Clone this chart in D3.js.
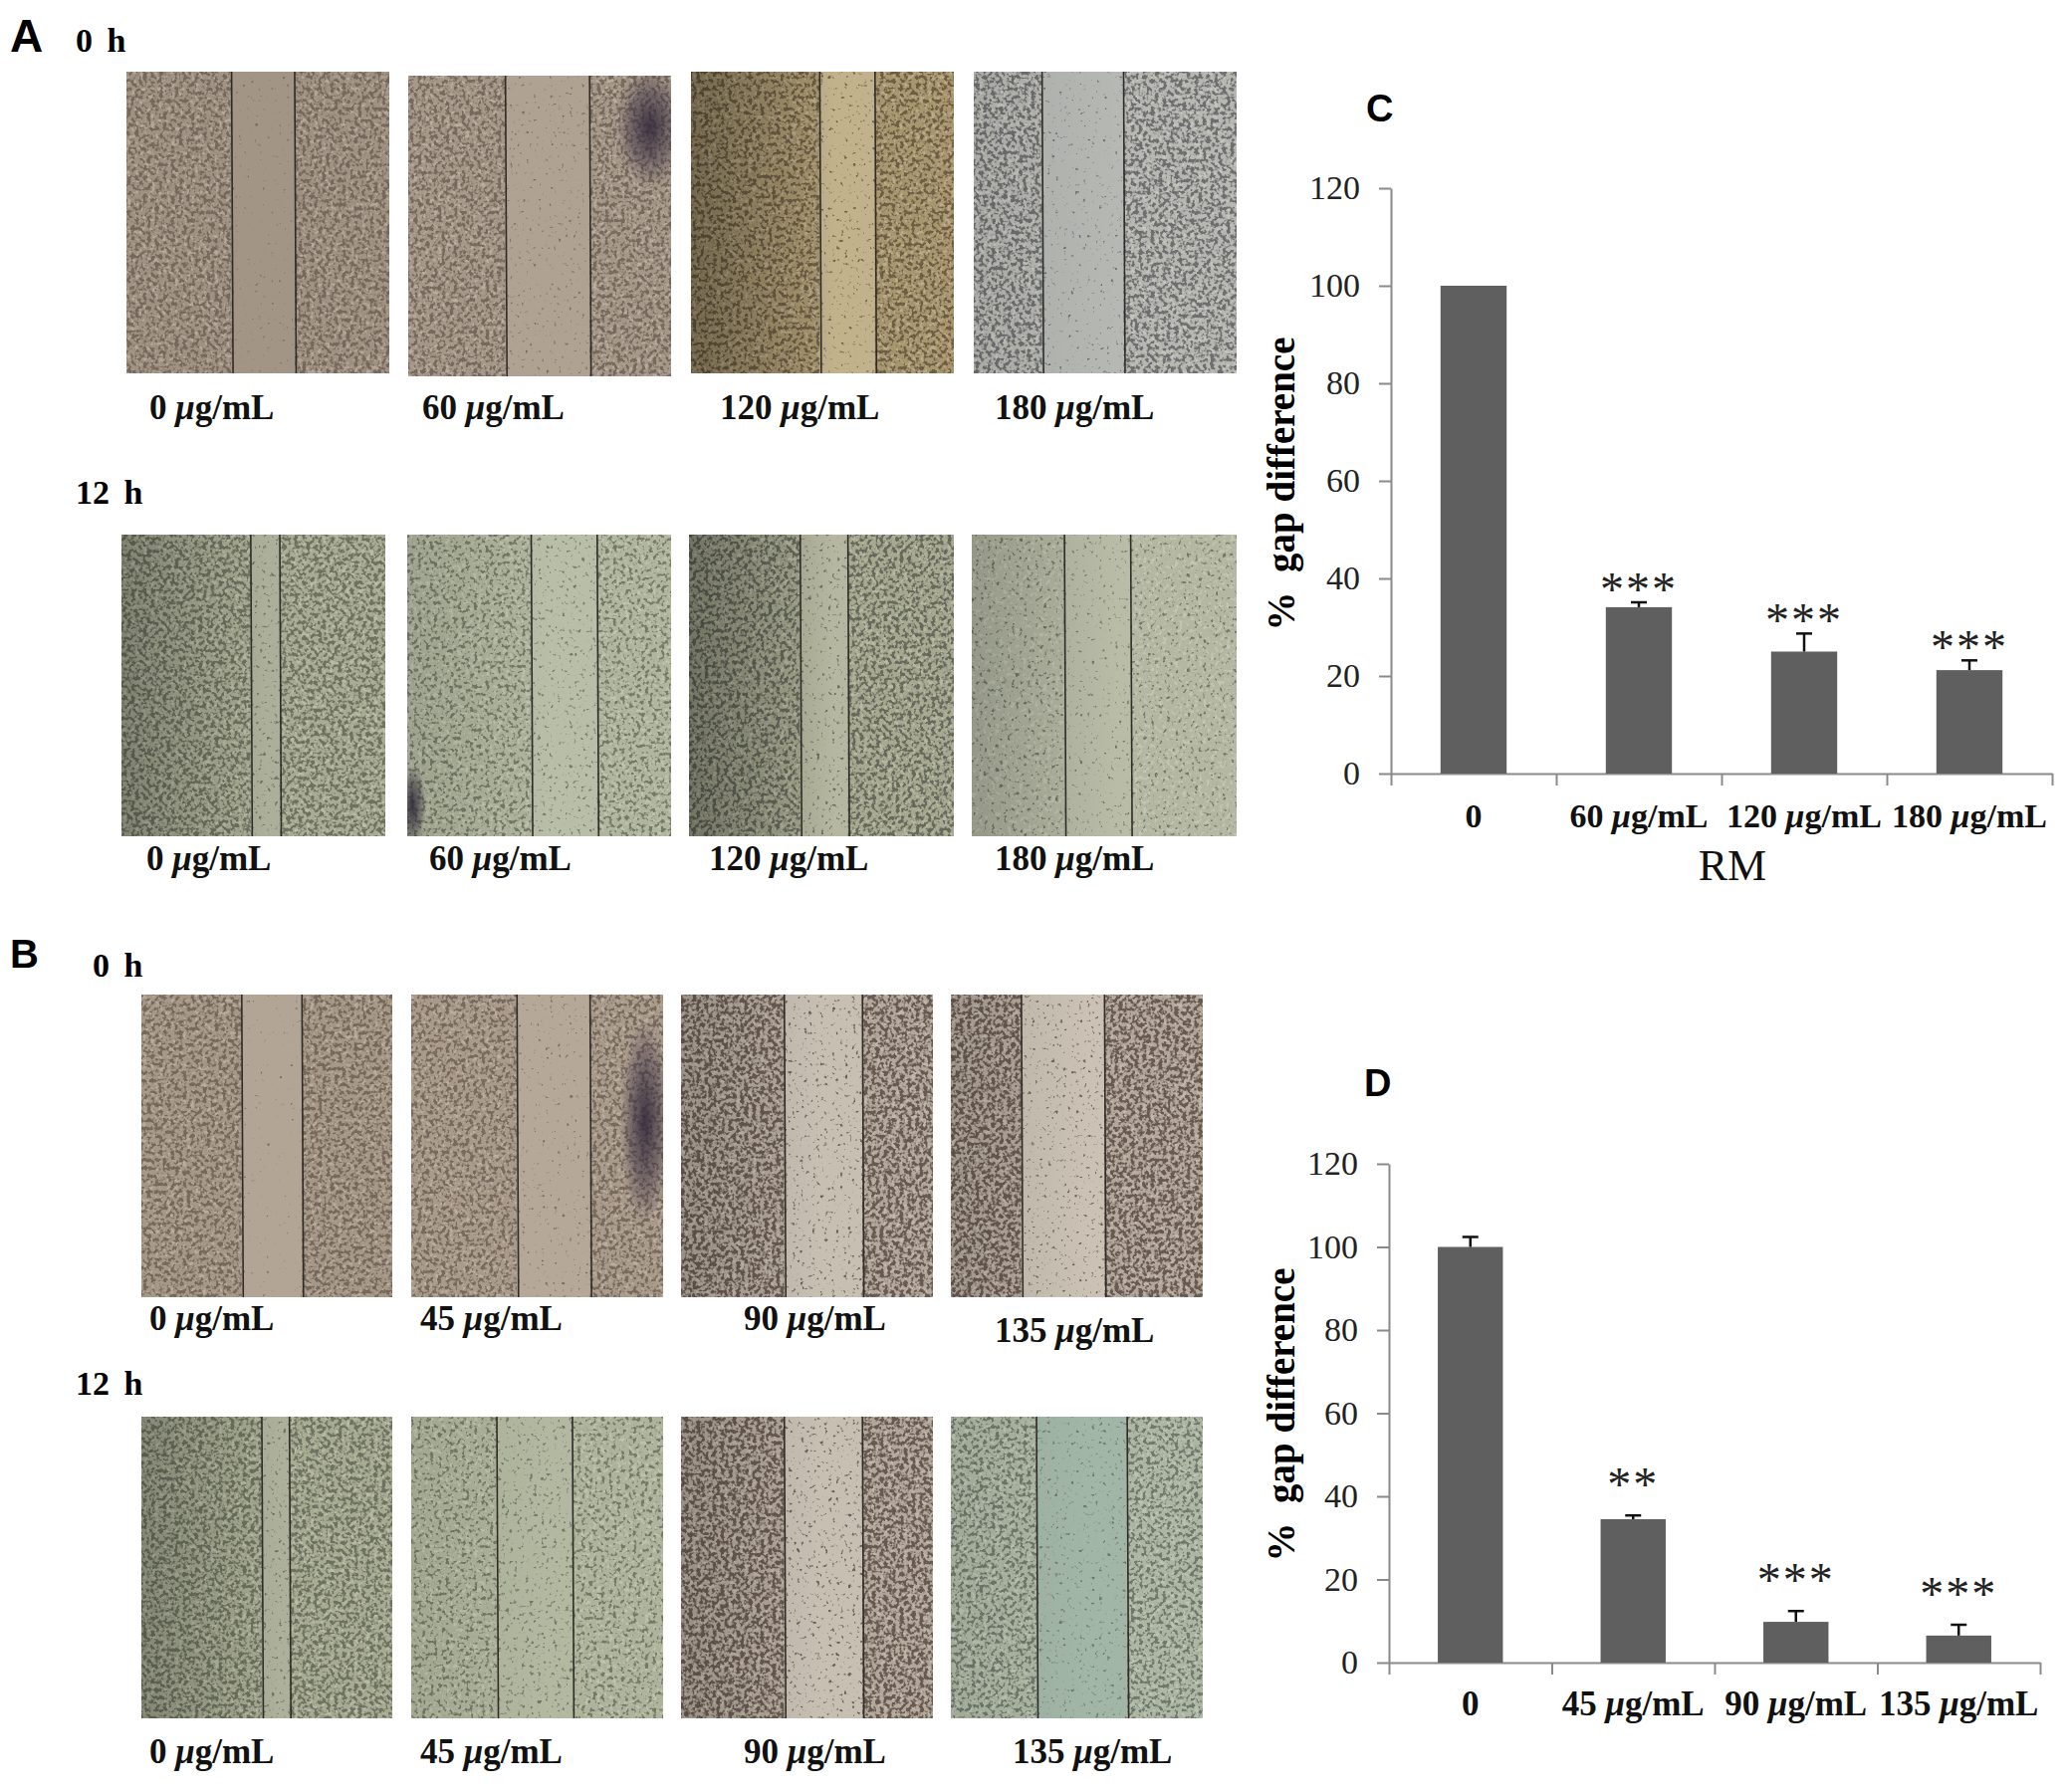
<!DOCTYPE html>
<html>
<head>
<meta charset="utf-8">
<script src="https://cdn.jsdelivr.net/npm/d3@7"></script>
<style>
  body { margin: 0; background: #fff; }
  svg { display: block; }
  .serif { font-family: "Liberation Serif", "Times New Roman", serif; }
  .sans { font-family: "Liberation Sans", Arial, sans-serif; }
</style>
</head>
<body>
<div id="fig"></div>
<script>
/* Wound healing figure: micrographs (A, B) and gap bar charts (C, D) */

// ---- chart data ----
const catsC = ["0", "60", "120", "180"];
const meansC = [100, 34.1, 25.0, 21.2];
const errC = [0, 1.0, 3.7, 2.0];
const sigC = ["", "***", "***", "***"];

const catsD = ["0", "45", "90", "135"];
const meansD = [100, 34.5, 9.8, 6.5];
const errD = [2.4, 0.9, 2.6, 2.6];
const sigD = ["", "**", "***", "***"];

const yTicks = [0, 20, 40, 60, 80, 100, 120];

// doses shown under the micrographs
const dosesA = ["0", "60", "120", "180"];
const dosesB = ["0", "45", "90", "135"];

const width = 2076, height = 1800;

const svg = d3.select("#fig").append("svg")
    .attr("width", width)
    .attr("height", height)
    .attr("viewBox", [0, 0, width, height]);

const defs = svg.append("defs");

// left-side darkening used on some photos
const shade = defs.append("linearGradient").attr("id", "shade");
shade.append("stop").attr("offset", "0%").attr("stop-color", "#000").attr("stop-opacity", 0.35);
shade.append("stop").attr("offset", "55%").attr("stop-color", "#000").attr("stop-opacity", 0);

const blot = defs.append("radialGradient").attr("id", "blot");
blot.append("stop").attr("offset", "0%").attr("stop-color", "#2c2236").attr("stop-opacity", 0.85);
blot.append("stop").attr("offset", "60%").attr("stop-color", "#3a2f42").attr("stop-opacity", 0.45);
blot.append("stop").attr("offset", "100%").attr("stop-color", "#3a2f42").attr("stop-opacity", 0);

function speck(id, color, freq, thr, seed, op) {
  const f = defs.append("filter").attr("id", id)
      .attr("x", 0).attr("y", 0).attr("width", 1).attr("height", 1)
      .attr("color-interpolation-filters", "sRGB");
  f.append("feTurbulence").attr("type", "fractalNoise")
      .attr("baseFrequency", freq).attr("numOctaves", 3)
      .attr("seed", seed).attr("result", "n");
  f.append("feColorMatrix").attr("in", "n").attr("type", "matrix")
      .attr("values", `0 0 0 0 0  0 0 0 0 0  0 0 0 0 0  7 0 0 0 ${-7 * thr}`)
      .attr("result", "m");
  f.append("feFlood").attr("flood-color", color).attr("flood-opacity", op).attr("result", "c");
  f.append("feComposite").attr("in", "c").attr("in2", "m").attr("operator", "in");
}

// ---- micrograph layout (x, y, w, h, gap edges as fractions, colours) ----
const photos = [
  // A 0 h
  {x: 127, y: 72, w: 264, h: 303, l: 0.40, r: 0.64, bg: "#a09282", cell: "#6a5d51", gap: "#a39585", thr: 0.48, gthr: 0.72, shade: 0},
  {x: 410, y: 76, w: 264, h: 302, l: 0.37, r: 0.69, bg: "#a69888", cell: "#6a5c51", gap: "#b0a292", thr: 0.48, gthr: 0.68, shade: 0, blot: [0.92, 0.17, 0.13, 0.2]},
  {x: 694, y: 72, w: 264, h: 303, l: 0.49, r: 0.70, bg: "#a8966f", cell: "#5e5038", gap: "#c2b28c", thr: 0.49, gthr: 0.66, shade: 0.9},
  {x: 978, y: 72, w: 264, h: 303, l: 0.26, r: 0.57, bg: "#b7b7b1", cell: "#5a5c5e", gap: "#b5b8b3", thr: 0.47, gthr: 0.68, shade: 0.2},
  // A 12 h
  {x: 122, y: 537, w: 265, h: 303, l: 0.49, r: 0.60, bg: "#a9ac94", cell: "#5e6352", gap: "#acb09a", thr: 0.47, gthr: 0.64, shade: 0.7},
  {x: 409, y: 537, w: 265, h: 303, l: 0.47, r: 0.72, bg: "#b0b59e", cell: "#666c59", gap: "#b9bea8", thr: 0.53, gthr: 0.64, shade: 0.3, blot: [0.02, 0.9, 0.05, 0.14]},
  {x: 692, y: 537, w: 266, h: 303, l: 0.42, r: 0.60, bg: "#a6a88f", cell: "#55594d", gap: "#b5b7a0", thr: 0.48, gthr: 0.64, shade: 0.9},
  {x: 976, y: 537, w: 266, h: 303, l: 0.35, r: 0.60, bg: "#b4b8a3", cell: "#606555", gap: "#b9bda8", thr: 0.62, gthr: 0.67, shade: 0.5},
  // B 0 h
  {x: 142, y: 999, w: 252, h: 304, l: 0.40, r: 0.64, bg: "#a69787", cell: "#695c50", gap: "#b3a595", thr: 0.48, gthr: 0.72, shade: 0},
  {x: 413, y: 999, w: 253, h: 304, l: 0.42, r: 0.71, bg: "#a99a8a", cell: "#6a5c51", gap: "#b6a898", thr: 0.49, gthr: 0.68, shade: 0, blot: [0.93, 0.42, 0.1, 0.34]},
  {x: 684, y: 999, w: 253, h: 304, l: 0.41, r: 0.72, bg: "#b2a79a", cell: "#54463d", gap: "#c8bfb3", thr: 0.45, gthr: 0.64, shade: 0.4},
  {x: 955, y: 999, w: 253, h: 304, l: 0.28, r: 0.61, bg: "#b2a79a", cell: "#55463d", gap: "#cbc2b5", thr: 0.45, gthr: 0.66, shade: 0.3},
  // B 12 h
  {x: 142, y: 1423, w: 252, h: 303, l: 0.48, r: 0.59, bg: "#a7ab92", cell: "#5e6453", gap: "#adb19b", thr: 0.47, gthr: 0.64, shade: 0.6},
  {x: 413, y: 1423, w: 253, h: 303, l: 0.34, r: 0.64, bg: "#aeb49b", cell: "#636b59", gap: "#b2b9a0", thr: 0.55, gthr: 0.62, shade: 0.2},
  {x: 684, y: 1423, w: 253, h: 303, l: 0.41, r: 0.72, bg: "#b2a79a", cell: "#54463d", gap: "#c8bfb3", thr: 0.45, gthr: 0.64, shade: 0.4},
  {x: 955, y: 1423, w: 253, h: 303, l: 0.34, r: 0.70, bg: "#adb6a3", cell: "#5e695d", gap: "#a2b6a8", thr: 0.50, gthr: 0.66, shade: 0.2}
];

const photoG = svg.append("g");

photos.forEach((p, i) => {
  speck(`cell${i}`, p.cell, 0.25, p.thr, i + 3, 0.8);
  speck(`lite${i}`, "#f4f1e8", 0.25, 0.55, i + 41, 0.25);
  speck(`gapc${i}`, p.cell, 0.25, p.gthr, i + 23, 0.8);

  defs.append("clipPath").attr("id", `clip${i}`)
    .append("rect").attr("x", p.x).attr("y", p.y).attr("width", p.w).attr("height", p.h);

  const g = photoG.append("g").attr("clip-path", `url(#clip${i})`);
  const gl = p.x + p.w * p.l, gr = p.x + p.w * p.r;

  g.append("rect").attr("x", p.x).attr("y", p.y).attr("width", p.w).attr("height", p.h)
      .attr("fill", p.bg);
  g.append("rect").attr("x", p.x).attr("y", p.y).attr("width", p.w).attr("height", p.h)
      .attr("fill", "#000").attr("filter", `url(#lite${i})`);
  g.append("rect").attr("x", p.x).attr("y", p.y).attr("width", p.w).attr("height", p.h)
      .attr("fill", "#000").attr("filter", `url(#cell${i})`);
  g.append("rect").attr("x", gl).attr("y", p.y).attr("width", gr - gl).attr("height", p.h)
      .attr("fill", p.gap);
  g.append("rect").attr("x", gl).attr("y", p.y).attr("width", gr - gl).attr("height", p.h)
      .attr("fill", "#000").attr("filter", `url(#gapc${i})`);

  if (p.blot) {
    g.append("ellipse")
        .attr("cx", p.x + p.w * p.blot[0]).attr("cy", p.y + p.h * p.blot[1])
        .attr("rx", p.w * p.blot[2]).attr("ry", p.h * p.blot[3])
        .attr("fill", "url(#blot)");
  }
  if (p.shade) {
    g.append("rect").attr("x", p.x).attr("y", p.y).attr("width", p.w).attr("height", p.h)
        .attr("fill", "url(#shade)").attr("opacity", p.shade);
  }

  g.selectAll("line.edge").data([gl, gr]).join("line")
      .attr("class", "edge")
      .attr("x1", d => d).attr("x2", d => d + 1.5)
      .attr("y1", p.y).attr("y2", p.y + p.h)
      .attr("stroke", "#2f2b28").attr("stroke-width", 1.6);
});

// ---- text around the micrographs ----
const doseLabel = (sel, dose) => {
  sel.append("tspan").text(dose + " ");
  sel.append("tspan").attr("font-style", "italic").text("\u03bc");
  sel.append("tspan").text("g/mL");
};

const photoLabelRows = [
  {doses: dosesA, xs: [150, 424, 723, 999], ys: [421, 421, 421, 421]},
  {doses: dosesA, xs: [147, 431, 712, 999], ys: [874, 874, 874, 874]},
  {doses: dosesB, xs: [150, 422, 747, 999], ys: [1336, 1336, 1336, 1348]},
  {doses: dosesB, xs: [150, 422, 747, 1017], ys: [1771, 1771, 1771, 1771]}
];

photoLabelRows.forEach(row => {
  row.doses.forEach((d, i) => {
    svg.append("text").attr("class", "serif")
        .attr("x", row.xs[i]).attr("y", row.ys[i])
        .attr("font-size", 35).attr("font-weight", "bold").attr("fill", "#111")
        .call(doseLabel, d);
  });
});

const timeLabels = [
  {t: "0 h", x: 76, y: 52},
  {t: "12 h", x: 76, y: 506},
  {t: "0 h", x: 93, y: 981},
  {t: "12 h", x: 76, y: 1401}
];
svg.selectAll("text.time").data(timeLabels).join("text")
    .attr("class", "time serif")
    .attr("x", d => d.x).attr("y", d => d.y)
    .attr("font-size", 34).attr("font-weight", "bold")
    .attr("word-spacing", 6)
    .text(d => d.t);

const panelLabels = [
  {t: "A", x: 10, y: 52, s: 46},
  {t: "B", x: 10, y: 972, s: 40},
  {t: "C", x: 1372, y: 122, s: 38},
  {t: "D", x: 1370, y: 1101, s: 38}
];
svg.selectAll("text.panel").data(panelLabels).join("text")
    .attr("class", "panel sans")
    .attr("x", d => d.x).attr("y", d => d.y)
    .attr("font-size", d => d.s).attr("font-weight", "bold")
    .text(d => d.t);

// ---- bar charts ----
function barChart(cats, means, errs, sigs, o) {
  const g = svg.append("g");

  const x = d3.scaleBand().domain(cats).range([o.x0, o.x1]);
  const xEdge = d3.scaleLinear().domain([0, cats.length]).range([o.x0, o.x1]);
  const y = d3.scaleLinear().domain([0, 120]).range([o.yBottom, o.yTop]);

  const yAxis = g.append("g")
      .attr("transform", `translate(${o.x0},0)`)
      .call(d3.axisLeft(y).tickValues(yTicks).tickSize(12).tickSizeOuter(0).tickPadding(19));
  yAxis.select(".domain").attr("stroke", "#8a8a8a").attr("stroke-width", 2);
  yAxis.selectAll(".tick line").attr("stroke", "#8a8a8a").attr("stroke-width", 2);
  yAxis.selectAll(".tick text")
      .attr("class", "serif").attr("font-size", 34).attr("fill", "#222");

  const xAxis = g.append("g")
      .attr("transform", `translate(0,${o.yBottom})`)
      .call(d3.axisBottom(xEdge).tickValues(d3.range(cats.length + 1))
          .tickFormat("").tickSize(12).tickSizeOuter(0));
  xAxis.select(".domain").attr("stroke", "#8a8a8a").attr("stroke-width", 2);
  xAxis.selectAll(".tick line").attr("stroke", "#8a8a8a").attr("stroke-width", 2);

  const bw = x.bandwidth() * 0.4;
  const cx = d => x(d) + x.bandwidth() / 2;
  const rows = cats.map((c, i) => ({c, m: means[i], e: errs[i], s: sigs[i]}));

  g.selectAll("rect.bar").data(rows).join("rect")
      .attr("class", "bar")
      .attr("x", d => cx(d.c) - bw / 2)
      .attr("width", bw)
      .attr("y", d => y(d.m))
      .attr("height", d => y(0) - y(d.m))
      .attr("fill", "#5f5f5f");

  const eb = g.selectAll("g.err").data(rows.filter(d => d.e > 0)).join("g").attr("class", "err");
  eb.append("line")
      .attr("x1", d => cx(d.c)).attr("x2", d => cx(d.c))
      .attr("y1", d => y(d.m)).attr("y2", d => y(d.m + d.e))
      .attr("stroke", "#111").attr("stroke-width", 2.5);
  eb.append("line")
      .attr("x1", d => cx(d.c) - 8).attr("x2", d => cx(d.c) + 8)
      .attr("y1", d => y(d.m + d.e)).attr("y2", d => y(d.m + d.e))
      .attr("stroke", "#111").attr("stroke-width", 2.5);

  g.selectAll("text.sig").data(rows.filter(d => d.s)).join("text")
      .attr("class", "sig serif")
      .attr("x", d => cx(d.c))
      .attr("y", d => y(d.m + d.e) - o.starGap + 23)
      .attr("text-anchor", "middle")
      .attr("font-size", 48).attr("fill", "#222")
      .attr("letter-spacing", 2)
      .text(d => d.s);

  g.selectAll("text.cat").data(rows).join("text")
      .attr("class", "cat serif")
      .attr("x", d => cx(d.c))
      .attr("y", o.labelY)
      .attr("text-anchor", "middle")
      .attr("font-size", o.labelSize).attr("font-weight", "bold").attr("fill", "#111")
      .each(function(d) {
        const t = d3.select(this);
        if (d.c === "0") t.text("0");
        else t.call(doseLabel, d.c);
      });

  g.append("text").attr("class", "serif")
      .attr("transform", `translate(${o.titleX},${o.titleY}) rotate(-90)`)
      .attr("text-anchor", "middle")
      .attr("font-size", 39).attr("font-weight", "bold")
      .style("white-space", "pre")
      .text("%  gap difference");

  if (o.xTitle) {
    g.append("text").attr("class", "serif")
        .attr("x", o.xTitle.x).attr("y", o.xTitle.y)
        .attr("text-anchor", "middle")
        .attr("font-size", 44).attr("fill", "#111")
        .text(o.xTitle.t);
  }
}

barChart(catsC, meansC, errC, sigC, {
  x0: 1397, x1: 2061, yBottom: 777, yTop: 189,
  starGap: 20, labelY: 831, labelSize: 34,
  titleX: 1300, titleY: 486,
  xTitle: {t: "RM", x: 1740, y: 884}
});

barChart(catsD, meansD, errD, sigD, {
  x0: 1395, x1: 2049, yBottom: 1670, yTop: 1169,
  starGap: 38, labelY: 1723, labelSize: 35,
  titleX: 1300, titleY: 1421
});
</script>
</body>
</html>
